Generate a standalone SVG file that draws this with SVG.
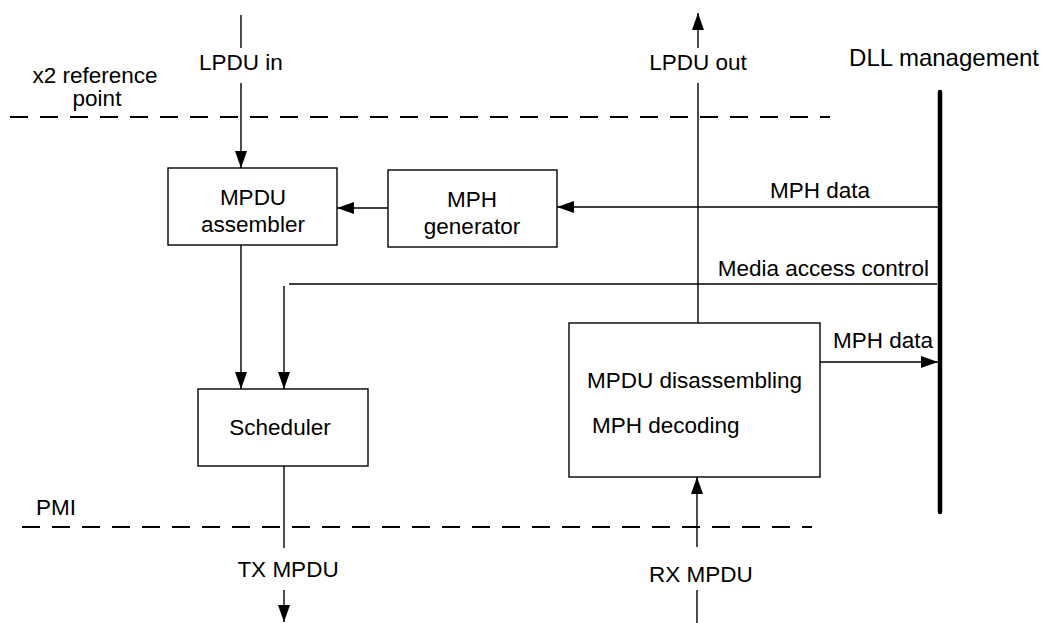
<svg xmlns="http://www.w3.org/2000/svg" width="1046" height="623" viewBox="0 0 1046 623">
<style>
text{font-family:"Liberation Sans",Arial,sans-serif;font-size:22.5px;fill:#000}
.box{fill:#fff;stroke:#000;stroke-width:1.4}
.ln{fill:none;stroke:#000;stroke-width:1.4}
.dash{fill:none;stroke:#000;stroke-width:2;stroke-dasharray:18 12}
.mid{text-anchor:middle}
</style>
<defs>
<marker id="ah" viewBox="0 0 17 12" refX="17" refY="6" markerWidth="17" markerHeight="12" markerUnits="userSpaceOnUse" orient="auto">
<path d="M0,0 L17,6 L0,12 Z" fill="#000"/>
</marker>
</defs>
<rect width="1046" height="623" fill="#fff"/>
<g id="boundaries">
<line class="dash" x1="10" y1="117" x2="830" y2="117"/>
<line class="dash" x1="22" y1="527" x2="812" y2="527"/>
<text x="95" y="83" class="mid">x2 reference</text>
<text x="97" y="106" class="mid">point</text>
<text x="36" y="515">PMI</text>
</g>
<g id="dll-management">
<line x1="940" y1="92" x2="940" y2="512" stroke="#000" stroke-width="4.5" stroke-linecap="round"/>
<text x="1039" y="66" text-anchor="end" style="font-size:24px">DLL management</text>
</g>
<g id="mpdu-assembler">
<rect class="box" x="168" y="168" width="169" height="77"/>
<text x="253" y="205" class="mid">MPDU</text>
<text x="253" y="232" class="mid">assembler</text>
</g>
<g id="mph-generator">
<rect class="box" x="388" y="170" width="169" height="77"/>
<text x="472" y="207" class="mid">MPH</text>
<text x="472" y="234" class="mid">generator</text>
</g>
<g id="scheduler">
<rect class="box" x="198" y="389" width="170" height="77"/>
<text x="280" y="435" class="mid">Scheduler</text>
</g>
<g id="mpdu-disassembling">
<rect class="box" x="569" y="323" width="251" height="154"/>
<text x="587" y="388">MPDU disassembling</text>
<text x="592" y="433">MPH decoding</text>
</g>
<g id="connectors">
<line class="ln" x1="241" y1="15" x2="241" y2="48"/>
<line class="ln" x1="241" y1="83" x2="241" y2="168" marker-end="url(#ah)"/>
<text x="241" y="70" class="mid">LPDU in</text>
<line class="ln" x1="698" y1="323" x2="698" y2="83"/>
<line class="ln" x1="698" y1="48" x2="698" y2="13" marker-end="url(#ah)"/>
<text x="698" y="70" class="mid">LPDU out</text>
<line class="ln" x1="938" y1="207" x2="557" y2="207" marker-end="url(#ah)"/>
<text x="870" y="198" text-anchor="end">MPH data</text>
<line class="ln" x1="388" y1="208" x2="337" y2="208" marker-end="url(#ah)"/>
<line class="ln" x1="241" y1="245" x2="241" y2="389" marker-end="url(#ah)"/>
<line class="ln" x1="289" y1="284" x2="937" y2="284"/>
<line class="ln" x1="284" y1="286" x2="284" y2="389" marker-end="url(#ah)"/>
<text x="929" y="276" text-anchor="end">Media access control</text>
<line class="ln" x1="820" y1="362" x2="938" y2="362" marker-end="url(#ah)"/>
<text x="833" y="348">MPH data</text>
<line class="ln" x1="284" y1="466" x2="284" y2="548"/>
<text x="288" y="577" class="mid">TX MPDU</text>
<line class="ln" x1="284" y1="590" x2="284" y2="622" marker-end="url(#ah)"/>
<line class="ln" x1="697" y1="623" x2="697" y2="590"/>
<text x="701" y="582" class="mid">RX MPDU</text>
<line class="ln" x1="697" y1="547" x2="697" y2="477" marker-end="url(#ah)"/>
</g>
</svg>
